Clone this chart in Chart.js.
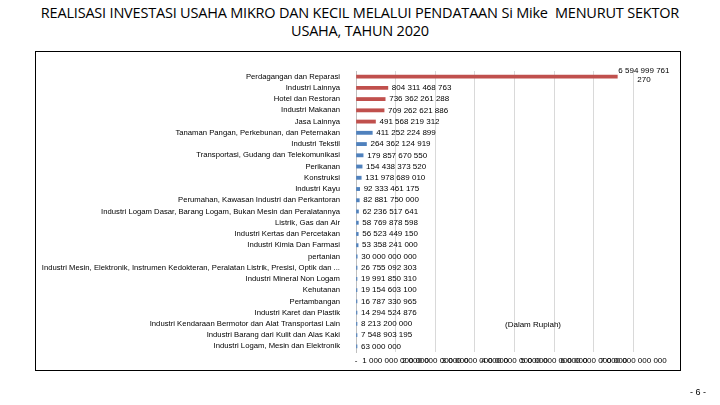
<!DOCTYPE html>
<html>
<head>
<meta charset="utf-8">
<script src="https://cdn.jsdelivr.net/npm/chart.js@4"></script>
<style>
  body { margin: 0; background: #fff; }
  #wrap { position: relative; width: 720px; height: 405px; }
  #title { position: absolute; left: 0; top: 4px; width: 720px; text-align: center;
           font: 14.5px "Open Sans", sans-serif; line-height: 18px; color: #000; letter-spacing: -0.2px; }
  #frame { position: absolute; left: 35px; top: 51px; width: 644px; height: 318px; border: 1.5px solid #000; }
  #unit { position: absolute; left: 505px; top: 320px; font: 8px "Liberation Sans", sans-serif; }
  #page { position: absolute; left: 690px; top: 387px; font: 9px "Liberation Sans", sans-serif; }
  canvas { position: absolute; left: 0; top: 0; }
</style>
</head>
<body>
<div id="wrap">
  <div id="title">REALISASI INVESTASI USAHA MIKRO DAN KECIL MELALUI PENDATAAN Si Mike&nbsp; MENURUT SEKTOR<br>USAHA, TAHUN 2020</div>
  <div id="frame"></div>
  <canvas id="investChart" width="720" height="405"></canvas>
  <div id="unit">(Dalam Rupiah)</div>
  <div id="page">- 6 -</div>
</div>
<script>
const sectors = [
  'Perdagangan dan Reparasi',
  'Industri Lainnya',
  'Hotel dan Restoran',
  'Industri Makanan',
  'Jasa Lainnya',
  'Tanaman Pangan, Perkebunan, dan Peternakan',
  'Industri Tekstil',
  'Transportasi, Gudang dan Telekomunikasi',
  'Perikanan',
  'Konstruksi',
  'Industri Kayu',
  'Perumahan, Kawasan Industri dan Perkantoran',
  'Industri Logam Dasar, Barang Logam, Bukan Mesin dan Peralatannya',
  'Listrik, Gas dan Air',
  'Industri Kertas dan Percetakan',
  'Industri Kimia Dan Farmasi',
  'pertanian',
  'Industri Mesin, Elektronik, Instrumen Kedokteran, Peralatan Listrik, Presisi, Optik dan ...',
  'Industri Mineral Non Logam',
  'Kehutanan',
  'Pertambangan',
  'Industri Karet dan Plastik',
  'Industri Kendaraan Bermotor dan Alat Transportasi Lain',
  'Industri Barang dari Kulit dan Alas Kaki',
  'Industri Logam, Mesin dan Elektronik'
];

const investasi = [
  6594999761270, 804311468763, 736362261288, 709262621886, 491568219312,
  411252224899, 264362124919, 179857670550, 154438373520, 131978689010,
  92333461175, 82881750000, 62236517641, 58769878598, 56523449150,
  53358241000, 30000000000, 26755092303, 19991850310, 19154603100,
  16787330965, 14294524876, 8213200000, 7548903195, 63000000
];

// top five sectors are drawn in red, the rest in blue
const redCount = 5;
const xTicks = [0, 1e12, 2e12, 3e12, 4e12, 5e12, 6e12, 7e12, 8e12];

function spaced(n) {
  return String(Math.round(n)).replace(/\B(?=(\d{3})+(?!\d))/g, ' ');
}

const valueLabels = {
  id: 'valueLabels',
  afterDatasetsDraw(chart) {
    const ctx = chart.ctx;
    const meta = chart.getDatasetMeta(0);
    const left = chart.chartArea.left;
    ctx.save();
    ctx.font = '8px "Liberation Sans", sans-serif';
    ctx.fillStyle = '#000';
    ctx.textBaseline = 'middle';
    meta.data.forEach((bar, i) => {
      const txt = spaced(investasi[i]);
      const x = Math.max(bar.x, left + 1) + 4;
      if (x + ctx.measureText(txt).width > 678) {
        // does not fit inside the frame: wrap last group onto second line
        const parts = txt.split(' ');
        const last = parts.pop();
        const first = parts.join(' ');
        ctx.textAlign = 'left';
        ctx.fillText(first, bar.x + 1, bar.y - 6);
        ctx.textAlign = 'center';
        ctx.fillText(last, bar.x + 1 + ctx.measureText(first).width / 2, bar.y + 3);
      } else {
        ctx.textAlign = 'left';
        ctx.fillText(txt, x, bar.y);
      }
    });
    ctx.restore();
  }
};

new Chart(document.getElementById('investChart'), {
  type: 'bar',
  data: {
    labels: sectors,
    datasets: [{
      data: investasi,
      backgroundColor: investasi.map((v, i) => i < redCount ? '#C0504D' : '#4F81BD'),
      barThickness: 3.2,
      minBarLength: 1
    }]
  },
  options: {
    indexAxis: 'y',
    responsive: false,
    animation: false,
    layout: { padding: { left: 36, right: 47, top: 71, bottom: 33 } },
    plugins: { legend: { display: false }, tooltip: { enabled: false } },
    scales: {
      x: {
        min: 0,
        max: 8e12,
        afterBuildTicks(s) { s.ticks = xTicks.map(v => ({ value: v })); },
        afterFit(s) { s.height = 20; },
        ticks: {
          autoSkip: false,
          maxRotation: 0,
          padding: 4,
          color: '#000',
          font: { family: 'Liberation Sans', size: 8 },
          callback(v) { return v === 0 ? '-' : (v >= 8e12 ? '' : spaced(v)); }
        },
        grid: {
          color: ctx => (ctx.tick && ctx.tick.value >= 8e12) ? 'rgba(0,0,0,0)' : '#d9d9d9',
          drawTicks: false
        },
        border: { display: false }
      },
      y: {
        afterFit(s) { s.width = 320; },
        ticks: {
          autoSkip: false,
          padding: 8,
          color: '#000',
          font: { family: 'Liberation Sans', size: 7.7 }
        },
        grid: { display: false },
        border: { display: true, color: '#bfbfbf' }
      }
    }
  },
  plugins: [valueLabels]
});
</script>
</body>
</html>
